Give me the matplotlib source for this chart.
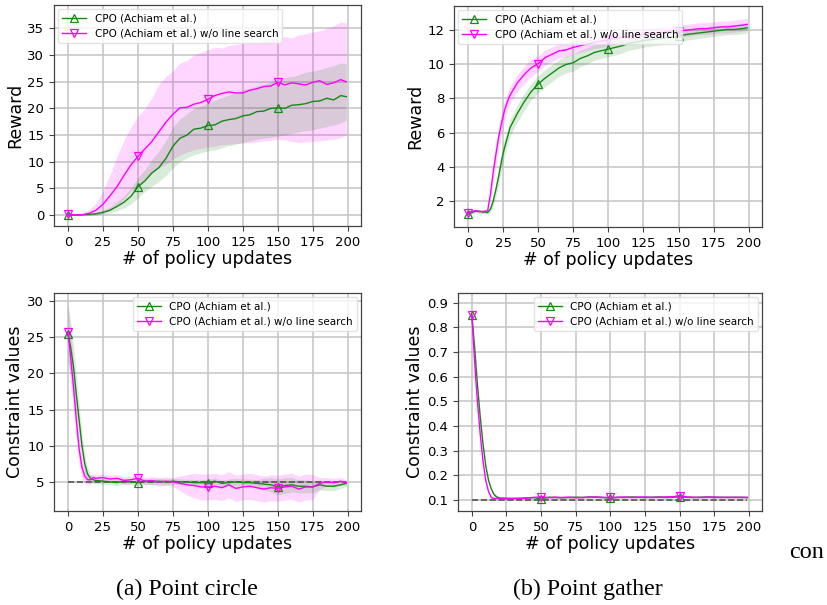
import numpy as np
import matplotlib
matplotlib.use("Agg")
import matplotlib.pyplot as plt

# ---------------- data ----------------
# (a) Point circle - reward
x_tl = [0, 5, 10, 15, 20, 25, 30, 35, 40, 45, 50, 55, 60, 65, 70, 75, 80, 85, 90, 95,
        100, 105, 110, 115, 120, 125, 130, 135, 140, 145, 150, 155, 160, 165, 170, 175,
        180, 185, 190, 195, 199]
tl_cpo = [0.0, 0.0, 0.05, 0.1, 0.25, 0.5, 0.9, 1.6, 2.4, 3.5, 5.3, 6.4, 7.9, 8.9, 10.6,
          12.9, 14.4, 15.0, 16.1, 16.3, 16.8, 16.9, 17.6, 17.9, 18.1, 18.6, 18.8, 19.4,
          19.5, 20.0, 20.1, 20.0, 20.6, 20.7, 20.9, 21.3, 21.4, 21.9, 21.6, 22.4, 22.2]
tl_cpo_lo = [-0.1, -0.1, -0.05, 0.0, 0.05, 0.2, 0.4, 0.8, 1.3, 2.1, 3.2, 4.4, 5.4, 6.3,
             7.4, 8.8, 10.0, 10.7, 11.3, 11.7, 12.0, 12.2, 12.6, 13.0, 13.3, 13.6, 13.9,
             14.2, 14.4, 14.6, 14.8, 15.0, 15.3, 15.6, 15.8, 16.0, 16.3, 16.6, 16.9, 17.3, 17.8]
tl_cpo_hi = [0.1, 0.1, 0.15, 0.3, 0.5, 0.9, 1.5, 2.5, 3.6, 5.0, 7.0, 8.5, 10.5, 12.0, 14.0,
             16.5, 18.0, 19.0, 20.0, 20.5, 21.0, 21.5, 22.0, 22.5, 23.0, 23.5, 23.8, 24.2,
             24.5, 25.0, 25.5, 25.8, 26.0, 26.3, 26.8, 27.0, 27.3, 27.7, 28.0, 28.5, 28.4]
tl_nols = [0.2, 0.0, 0.05, 0.3, 0.9, 2.0, 3.6, 5.3, 7.4, 9.4, 11.0, 12.4, 13.8, 15.6, 17.4,
           18.9, 20.1, 20.2, 20.8, 21.1, 21.7, 22.4, 22.8, 23.1, 22.9, 22.9, 23.4, 23.7,
           24.1, 24.2, 24.9, 24.4, 24.8, 24.6, 24.4, 24.9, 25.2, 24.5, 24.8, 25.4, 25.0]
tl_nols_lo = [0.0, -0.1, -0.1, -0.1, 0.0, 0.3, 0.8, 1.8, 3.0, 4.5, 5.5, 6.8, 7.8, 8.8, 9.5,
              10.5, 11.2, 11.8, 12.2, 12.5, 12.7, 12.9, 13.2, 13.3, 13.4, 13.5, 13.6, 13.7,
              13.9, 14.0, 14.2, 14.1, 13.8, 13.6, 13.7, 13.8, 13.9, 14.1, 14.2, 14.5, 15.0]
tl_nols_hi = [0.3, 0.2, 0.4, 1.0, 2.2, 4.5, 7.5, 11.0, 14.0, 16.5, 18.5, 20.0, 22.0, 24.5,
              26.0, 27.0, 28.5, 29.0, 30.0, 30.5, 31.0, 31.5, 31.3, 31.8, 32.0, 32.2, 32.5,
              32.3, 32.8, 33.0, 33.3, 33.5, 33.2, 33.8, 34.0, 34.3, 34.6, 35.0, 35.5, 36.2, 36.0]

# (b) Point gather - reward
x_tr = [0, 5, 10, 14, 16, 18, 20, 22, 24, 26, 28, 30, 35, 40, 45, 50, 55, 60, 65, 70, 75,
        80, 85, 90, 95, 100, 105, 110, 115, 120, 125, 130, 135, 140, 145, 150, 155, 160,
        165, 170, 175, 180, 185, 190, 195, 199]
tr_cpo = [1.2, 1.38, 1.35, 1.3, 1.5, 2.0, 2.7, 3.5, 4.4, 5.1, 5.7, 6.3, 7.1, 7.8, 8.4,
          8.85, 9.2, 9.5, 9.8, 10.0, 10.1, 10.35, 10.5, 10.7, 10.8, 10.9, 11.0, 11.1,
          11.25, 11.3, 11.4, 11.45, 11.5, 11.55, 11.6, 11.65, 11.75, 11.8, 11.85, 11.9,
          11.95, 12.0, 12.05, 12.05, 12.1, 12.15]
tr_cpo_sd = [0.1, 0.1, 0.1, 0.1, 0.2, 0.3, 0.4, 0.5, 0.5, 0.5, 0.5, 0.5, 0.5, 0.5, 0.5,
             0.5, 0.5, 0.5, 0.5, 0.5, 0.5, 0.48, 0.47, 0.46, 0.45, 0.45, 0.44, 0.42, 0.41,
             0.4, 0.39, 0.38, 0.37, 0.36, 0.35, 0.35, 0.34, 0.33, 0.32, 0.32, 0.31, 0.3,
             0.3, 0.3, 0.3, 0.3]
tr_nols = [1.3, 1.4, 1.35, 1.4, 2.4, 3.7, 4.8, 5.8, 6.6, 7.3, 7.8, 8.2, 8.9, 9.4, 9.8,
           10.05, 10.4, 10.6, 10.8, 10.85, 11.0, 11.1, 11.2, 11.3, 11.35, 11.45, 11.5,
           11.6, 11.65, 11.7, 11.75, 11.8, 11.85, 11.9, 11.95, 11.95, 12.0, 12.05, 12.1,
           12.1, 12.15, 12.2, 12.2, 12.25, 12.3, 12.35]
tr_nols_sd = [0.1, 0.1, 0.1, 0.1, 0.3, 0.5, 0.6, 0.6, 0.6, 0.55, 0.5, 0.5, 0.5, 0.5, 0.5,
              0.45, 0.44, 0.43, 0.42, 0.41, 0.4, 0.39, 0.38, 0.37, 0.36, 0.35, 0.35, 0.35,
              0.35, 0.35, 0.35, 0.35, 0.35, 0.35, 0.35, 0.35, 0.35, 0.35, 0.35, 0.35, 0.35,
              0.35, 0.35, 0.35, 0.35, 0.35]

# (a) Point circle - constraint
x_bot = [0, 2, 4, 6, 8, 10, 12, 14, 16, 18, 20, 25, 30, 35, 40, 45, 50, 55, 60, 65, 70,
         75, 80, 85, 90, 95, 100, 105, 110, 115, 120, 125, 130, 135, 140, 145, 150, 155,
         160, 165, 170, 175, 180, 185, 190, 195, 199]
bl_cpo = [25.5, 23.5, 20.8, 17.0, 13.5, 10.0, 7.5, 6.1, 5.5, 5.3, 5.2, 5.1, 5.0, 4.9, 5.1,
          5.0, 4.9, 5.1, 5.0, 5.1, 5.0, 5.1, 5.0, 5.0, 4.9, 4.9, 4.9, 5.1, 4.8, 4.9, 5.0,
          4.9, 4.9, 4.8, 4.7, 4.6, 4.3, 4.5, 4.6, 4.4, 4.4, 4.3, 4.6, 4.4, 4.4, 4.6, 4.8]
bl_cpo_sd = [4.0, 3.5, 3.0, 2.5, 2.0, 1.6, 1.2, 0.9, 0.6, 0.5, 0.4, 0.4, 0.4, 0.4, 0.4,
             0.4, 0.4, 0.4, 0.4, 0.4, 0.4, 0.4, 0.4, 0.4, 0.45, 0.45, 0.45, 0.45, 0.45,
             0.5, 0.5, 0.5, 0.5, 0.5, 0.8, 1.0, 1.1, 1.1, 1.0, 0.9, 0.9, 0.8, 0.7, 0.6,
             0.6, 0.5, 0.4]
bl_nols = [25.7, 22.0, 18.0, 13.5, 9.5, 7.0, 5.8, 5.3, 5.3, 5.6, 5.5, 5.6, 5.4, 5.5, 5.2,
           5.3, 5.5, 5.1, 5.2, 5.0, 5.1, 5.0, 4.8, 4.6, 4.5, 4.3, 4.3, 4.4, 4.2, 4.6, 4.1,
           4.3, 4.4, 4.2, 4.0, 4.2, 4.1, 4.3, 4.4, 4.0, 4.3, 4.3, 4.8, 5.0, 4.9, 5.1, 4.9]
bl_nols_sd = [4.0, 3.5, 3.0, 2.5, 2.0, 1.5, 1.0, 0.7, 0.6, 0.5, 0.5, 0.5, 0.5, 0.5, 0.5,
              0.5, 0.5, 0.5, 0.55, 0.6, 0.6, 0.6, 1.0, 1.4, 1.7, 1.8, 1.8, 1.8, 1.8, 1.8,
              1.8, 1.8, 1.8, 1.8, 1.8, 1.8, 1.8, 1.8, 1.8, 1.8, 1.8, 1.7, 0.8, 0.6, 0.6,
              0.5, 0.4]
bl_limit = 5.0

# (b) Point gather - constraint
br_cpo = [0.85, 0.72, 0.57, 0.44, 0.33, 0.24, 0.18, 0.145, 0.122, 0.112, 0.108, 0.107,
          0.106, 0.107, 0.108, 0.11, 0.103, 0.111, 0.11, 0.109, 0.11, 0.111, 0.11, 0.112,
          0.111, 0.11, 0.107, 0.111, 0.11, 0.112, 0.111, 0.11, 0.111, 0.112, 0.11, 0.111,
          0.112, 0.111, 0.11, 0.111, 0.112, 0.11, 0.111, 0.11, 0.111, 0.11, 0.11]
br_cpo_sd = [0.01, 0.01, 0.01, 0.01, 0.008, 0.007, 0.006, 0.005, 0.005, 0.005, 0.004,
             0.004, 0.004, 0.004, 0.004, 0.004, 0.004, 0.004, 0.004, 0.004, 0.004, 0.004,
             0.004, 0.004, 0.004, 0.004, 0.004, 0.004, 0.004, 0.004, 0.004, 0.004, 0.004,
             0.004, 0.004, 0.004, 0.004, 0.004, 0.004, 0.004, 0.004, 0.004, 0.004, 0.004,
             0.004, 0.004, 0.004]
br_nols = [0.85, 0.66, 0.50, 0.37, 0.26, 0.18, 0.135, 0.11, 0.105, 0.106, 0.105, 0.104,
           0.106, 0.105, 0.108, 0.11, 0.113, 0.109, 0.111, 0.11, 0.111, 0.109, 0.11, 0.111,
           0.112, 0.11, 0.111, 0.11, 0.112, 0.11, 0.111, 0.112, 0.11, 0.111, 0.112, 0.113,
           0.117, 0.112, 0.111, 0.11, 0.111, 0.112, 0.11, 0.111, 0.11, 0.111, 0.11]
br_nols_sd = br_cpo_sd
br_limit = 0.1

label_cpo = "CPO (Achiam et al.)"
label_nols = "CPO (Achiam et al.) w/o line search"
xticks = [0, 25, 50, 75, 100, 125, 150, 175, 200]
captions = ["(a) Point circle", "(b) Point gather"]
stray_text = "con"

# ---------------- style ----------------
GREEN = "#138a13"
MAGENTA = "#ff00ff"
W, H = 828, 605
fig = plt.figure(figsize=(W / 100, H / 100), dpi=100)


def add_ax(l, t, r, b):
    return fig.add_axes([l / W, 1 - b / H, (r - l) / W, (b - t) / H])


def mark_idx(x):
    return [list(x).index(v) for v in (0, 50, 100, 150)]


def panel(ax, x, m1, lo1, hi1, m2, lo2, hi2, ylabel, ylim, yticks, legloc,
          limit=None):
    ax.fill_between(x, lo2, hi2, color=MAGENTA, alpha=0.16, linewidth=0)
    ax.fill_between(x, lo1, hi1, color="green", alpha=0.15, linewidth=0)
    if limit is not None:
        ax.plot([0, 199], [limit, limit], color="#555555", linestyle="--",
                linewidth=1.2, zorder=1)
    ax.plot(x, m1, color=GREEN, lw=1.0, marker="^", markevery=mark_idx(x),
            markersize=6, markerfacecolor="none", markeredgewidth=0.9,
            label=label_cpo, zorder=3)
    ax.plot(x, m2, color=MAGENTA, lw=1.0, marker="v", markevery=mark_idx(x),
            markersize=6, markerfacecolor="none", markeredgewidth=0.9,
            label=label_nols, zorder=3)
    ax.set_xlim(-10, 209.5)
    ax.set_ylim(*ylim)
    ax.set_xticks(xticks)
    ax.set_yticks(yticks)
    ax.grid(True, color="#c4c4c4", linewidth=1.1)
    ax.set_axisbelow(True)
    ax.tick_params(labelsize=9.5, length=3.5, color="#444444")
    for s in ax.spines.values():
        s.set_color("#444444")
        s.set_linewidth(0.9)
    ax.set_xlabel("# of policy updates", fontsize=12.5, labelpad=1)
    ax.set_ylabel(ylabel, fontsize=12.5, labelpad=2)
    ax.legend(loc=legloc, fontsize=7.5, handlelength=2.3, borderaxespad=0.4,
              framealpha=0.8, edgecolor="#dddddd", fancybox=True)


ax1 = add_ax(54, 5, 361, 226)
panel(ax1, x_tl, tl_cpo, tl_cpo_lo, tl_cpo_hi, tl_nols, tl_nols_lo, tl_nols_hi,
      "Reward", (-2.06, 39.4), [0, 5, 10, 15, 20, 25, 30, 35], "upper left")

ax2 = add_ax(454, 6, 762, 227)
m1 = np.array(tr_cpo); s1 = np.array(tr_cpo_sd)
m2 = np.array(tr_nols); s2 = np.array(tr_nols_sd)
panel(ax2, x_tr, m1, m1 - s1, m1 + s1, m2, m2 - s2, m2 + s2,
      "Reward", (0.45, 13.43), [2, 4, 6, 8, 10, 12], "upper left")

ax3 = add_ax(54, 293, 361, 511)
m1 = np.array(bl_cpo); s1 = np.array(bl_cpo_sd)
m2 = np.array(bl_nols); s2 = np.array(bl_nols_sd)
panel(ax3, x_bot, m1, m1 - s1, m1 + s1, m2, m2 - s2, m2 + s2,
      "Constraint values", (0.98, 31.1), [5, 10, 15, 20, 25, 30], "upper right",
      limit=bl_limit)

ax4 = add_ax(458, 293, 762, 511)
m1 = np.array(br_cpo); s1 = np.array(br_cpo_sd)
m2 = np.array(br_nols); s2 = np.array(br_nols_sd)
panel(ax4, x_bot, m1, m1 - s1, m1 + s1, m2, m2 - s2, m2 + s2,
      "Constraint values", (0.055, 0.94),
      [0.1, 0.2, 0.3, 0.4, 0.5, 0.6, 0.7, 0.8, 0.9], "upper right", limit=br_limit)

fig.text(187 / W, 1 - 589 / H, captions[0], fontsize=17.2, family="Liberation Serif",
         ha="center", va="center")
fig.text(588 / W, 1 - 589 / H, captions[1], fontsize=17.2, family="Liberation Serif",
         ha="center", va="center")
fig.text(789 / W, 1 - 553 / H, stray_text, fontsize=17.5, family="Liberation Serif",
         ha="left", va="center")

fig.savefig("out.png", dpi=100)
